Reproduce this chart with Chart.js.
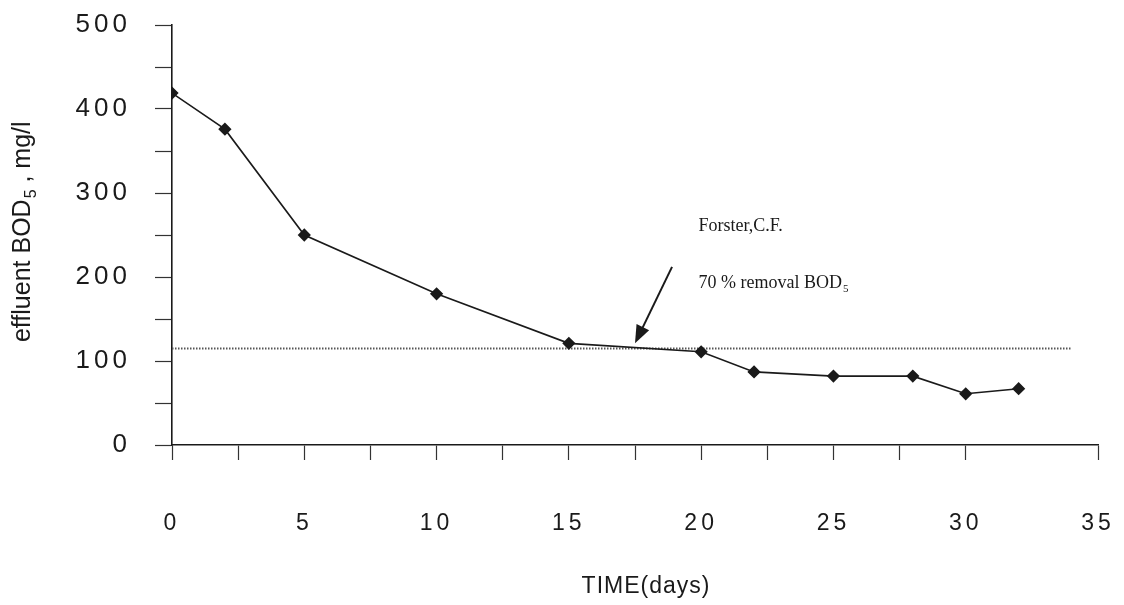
<!DOCTYPE html>
<html>
<head>
<meta charset="utf-8">
<script src="https://cdn.jsdelivr.net/npm/chart.js@4.4.1/dist/chart.umd.min.js"></script>
<style>
  html, body { margin: 0; padding: 0; background: #fff; }
  #wrap { width: 1124px; height: 605px; position: relative; }
</style>
</head>
<body>
<div id="wrap"><canvas id="chart" width="1124" height="605"></canvas></div>
<script>
// effluent BOD5 over time
const days = [0, 2, 5, 10, 15, 20, 22, 25, 28, 30, 32];
const bodValues = [419, 376, 250, 180, 121, 111, 87, 82, 82, 61, 67];

// 70 % removal level (Forster, C.F.)
const thresholdDays = [0, 34];
const thresholdValues = [115, 115];

const xTickMarks = [0, 2.5, 5, 7.5, 10, 12.5, 15, 17.5, 20, 22.5, 25, 27.5, 30, 35];
const xTickLabels = [0, 5, 10, 15, 20, 25, 30, 35];
const yTickLabels = [0, 100, 200, 300, 400, 500];

const ink = "#1a1a1a";
const sansFont = "'Liberation Sans', Arial, sans-serif";
const serifFont = "'Liberation Serif', 'Times New Roman', serif";

// text with a subscript part, drawn left to right from x
function drawSub(ctx, x, y, main, sub, tail, size, family) {
    ctx.font = size + "px " + family;
    ctx.fillText(main, x, y);
    let w = ctx.measureText(main).width;
    ctx.font = Math.round(size * 0.62) + "px " + family;
    ctx.fillText(sub, x + w + 1, y + size * 0.22);
    w += ctx.measureText(sub).width + 1;
    ctx.font = size + "px " + family;
    ctx.fillText(tail, x + w, y);
    return w + ctx.measureText(tail).width;
}

const decor = {
    id: "decor",
    beforeDraw(chart) {
        chart.ctx.letterSpacing = "4px";
    },
    afterDraw(chart) {
        const ctx = chart.ctx;
        const xs = chart.scales.x, ys = chart.scales.y;
        ctx.save();
        ctx.letterSpacing = "0px";
        ctx.fillStyle = ink;
        ctx.strokeStyle = ink;
        ctx.textBaseline = "alphabetic";

        // x title
        ctx.font = "23px " + sansFont;
        ctx.letterSpacing = "1px";
        ctx.textAlign = "center";
        ctx.fillText("TIME(days)", 646, 593);
        ctx.letterSpacing = "0px";

        // y title, rotated, with subscript
        ctx.save();
        ctx.translate(30, 232);
        ctx.rotate(-Math.PI / 2);
        ctx.textAlign = "left";
        ctx.font = "25px " + sansFont;
        const mainW = ctx.measureText("effluent BOD").width;
        ctx.font = "15px " + sansFont;
        const subW = ctx.measureText("5").width;
        ctx.font = "25px " + sansFont;
        const tailW = ctx.measureText(" , mg/l").width;
        drawSub(ctx, -(mainW + subW + tailW + 1) / 2, 0, "effluent BOD", "5", " , mg/l", 25, sansFont);
        ctx.restore();

        // annotation text
        ctx.textAlign = "left";
        ctx.font = "18px " + serifFont;
        ctx.fillText("Forster,C.F.", xs.getPixelForValue(19.9), ys.getPixelForValue(255));
        drawSub(ctx, xs.getPixelForValue(19.9), ys.getPixelForValue(187), "70 % removal BOD", "5", "", 18, serifFont);

        // arrow
        const x1 = xs.getPixelForValue(18.9), y1 = ys.getPixelForValue(212);
        const x2 = xs.getPixelForValue(17.5), y2 = ys.getPixelForValue(121);
        const ang = Math.atan2(y2 - y1, x2 - x1);
        ctx.lineWidth = 2;
        ctx.beginPath();
        ctx.moveTo(x1, y1);
        ctx.lineTo(x2 - 10 * Math.cos(ang), y2 - 10 * Math.sin(ang));
        ctx.stroke();
        ctx.beginPath();
        ctx.moveTo(x2, y2);
        ctx.lineTo(x2 - 18 * Math.cos(ang) + 7 * Math.sin(ang), y2 - 18 * Math.sin(ang) - 7 * Math.cos(ang));
        ctx.lineTo(x2 - 18 * Math.cos(ang) - 7 * Math.sin(ang), y2 - 18 * Math.sin(ang) + 7 * Math.cos(ang));
        ctx.closePath();
        ctx.fill();
        ctx.restore();
    }
};

function noEdgePadding(scale) {
    scale.paddingLeft = 0;
    scale.paddingRight = 0;
    scale.paddingTop = 0;
    scale.paddingBottom = 0;
}

const ctx = document.getElementById("chart").getContext("2d");
new Chart(ctx, {
    type: "line",
    data: {
        datasets: [
            {
                data: days.map((d, i) => ({ x: d, y: bodValues[i] })),
                borderColor: ink,
                borderWidth: 1.6,
                pointStyle: "rectRot",
                pointRadius: 5.5,
                pointBackgroundColor: ink,
                pointBorderColor: ink,
                tension: 0
            },
            {
                data: thresholdDays.map((d, i) => ({ x: d, y: thresholdValues[i] })),
                borderColor: "#555",
                borderWidth: 2,
                borderDash: [1.5, 1.5],
                pointRadius: 0
            }
        ]
    },
    options: {
        responsive: false,
        animation: false,
        devicePixelRatio: 1,
        layout: { padding: { top: 25, right: 26, left: 0, bottom: 0 } },
        plugins: {
            legend: { display: false },
            tooltip: { enabled: false },
            title: { display: false }
        },
        scales: {
            x: {
                type: "linear",
                min: 0,
                max: 35,
                afterBuildTicks: (scale) => {
                    scale.ticks = xTickMarks.map(v => ({ value: v }));
                },
                afterFit: (scale) => { scale.height = 160; noEdgePadding(scale); },
                ticks: {
                    autoSkip: false,
                    maxRotation: 0,
                    padding: 50,
                    color: ink,
                    font: { family: sansFont, size: 23 },
                    callback: (v) => xTickLabels.includes(v) ? String(v) : ""
                },
                grid: {
                    drawOnChartArea: false,
                    drawTicks: true,
                    tickLength: 15,
                    tickWidth: 1.2,
                    color: "#333"
                },
                border: { display: true, color: ink, width: 1.6 }
            },
            y: {
                min: 0,
                max: 500,
                afterBuildTicks: (scale) => {
                    const marks = [];
                    for (let i = 0; i < yTickLabels.length; i++) {
                        marks.push({ value: yTickLabels[i] });
                        if (i < yTickLabels.length - 1) marks.push({ value: (yTickLabels[i] + yTickLabels[i + 1]) / 2 });
                    }
                    scale.ticks = marks;
                },
                afterFit: (scale) => { scale.width = 172; noEdgePadding(scale); },
                ticks: {
                    padding: 24,
                    color: ink,
                    font: { family: sansFont, size: 26 },
                    callback: (v) => yTickLabels.includes(v) ? String(v) : ""
                },
                grid: {
                    drawOnChartArea: false,
                    drawTicks: true,
                    tickLength: 17,
                    tickWidth: 1.2,
                    color: "#333"
                },
                border: { display: true, color: ink, width: 1.6 }
            }
        }
    },
    plugins: [decor]
});
</script>
</body>
</html>
